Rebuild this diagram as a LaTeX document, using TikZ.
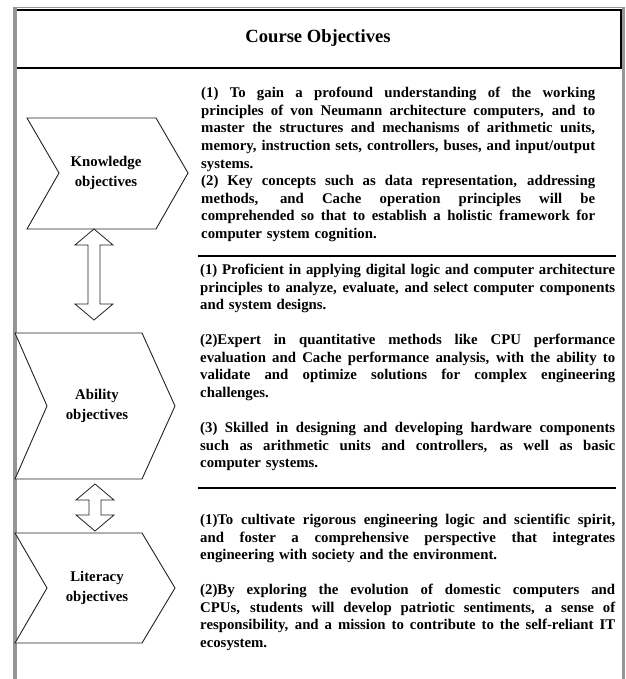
\documentclass[tikz,border=0pt]{standalone}
\usepackage{fontspec}
\setmainfont{Liberation Serif}
\usepackage{graphicx}
\setlength\parindent{0pt}

\definecolor{bargray}{RGB}{150,150,150}
\definecolor{inkline}{RGB}{35,35,35}

% one full-width justified line; squeezed horizontally if it is too long
\newsavebox\linebox
\newcommand\jline[1]{\leavevmode\strut\sbox\linebox{#1}%
  \ifdim\wd\linebox>\hsize
    \resizebox{\hsize}{\height}{\usebox\linebox}%
  \else
    \hbox to \hsize{\spaceskip=0pt\xspaceskip=0pt #1}%
  \fi}
% last (ragged) line of a paragraph
\newcommand\lastline[1]{\leavevmode\strut #1}

\tikzset{
  body/.style={anchor=north west, inner sep=0pt, align=left,
    font=\bfseries\fontsize{14.8}{17.6}\selectfont},
  tag/.style={inner sep=0pt, align=center,
    font=\bfseries\fontsize{14.8}{20}\selectfont},
  chevron/.style={draw=inkline, line width=0.9pt, fill=white},
  twowaystyle/.style={draw=inkline, line width=0.8pt, fill=white, line join=miter},
  rule/.style={line width=2pt, black},
}

% vertical double-headed block arrow: x, top tip y, bottom tip y
\newcommand\twoway[3]{%
  \draw[twowaystyle] (#1,#2) -- ++(19,16) -- ++(-13,0) -- (#1+6,#3-16)
    -- ++(13,0) -- (#1,#3) -- ++(-19,-16) -- ++(13,0) -- (#1-6,#2+16)
    -- ++(-13,0) -- cycle;}

\begin{document}
\begin{tikzpicture}[x=1pt, y=-1pt]
\useasboundingbox (0,0) rectangle (625,679);
\fill[white] (0,0) rectangle (625,679);

% outer frame and header
\fill[bargray] (12.7,7.3) rectangle (16.7,679);
\fill[bargray] (621.6,7.3) rectangle (625,679);
\draw[bargray, line width=0.8pt] (16.7,7.7) -- (621.6,7.7);
\draw[black, line width=1.6pt] (16.7,10.2) -- (621,10.2) -- (621,68);
\draw[black, line width=2pt] (16.7,68) -- (621.6,68);
\node[font=\bfseries\fontsize{18.6}{22}\selectfont] (title) at (318,38.5) {Course Objectives};

% chevrons with their labels
\draw[chevron] (27,118) -- (156,118) -- (188,173) -- (156,229) -- (27,229) -- (59,173) -- cycle;
\node[tag] (know) at (106,173) {Knowledge\\objectives};

\draw[chevron] (15,333) -- (142,333) -- (175,406) -- (142,479) -- (15,479) -- (47,406) -- cycle;
\node[tag] (abil) at (97,406) {Ability\\objectives};

\draw[chevron] (15,533) -- (142,533) -- (175,588) -- (142,643) -- (15,643) -- (47,588) -- cycle;
\node[tag] (lit) at (97,588) {Literacy\\objectives};

% links between the three objective groups
\coordinate (knowbottom) at (94,229);
\coordinate (abiltop) at (94,320);
\coordinate (abilbottom) at (95,484);
\coordinate (littop) at (95,531);
\twoway{94}{229}{320}
\twoway{95}{484}{531}

% separators between the text groups
\draw[rule] (198,256) -- (616,256);
\draw[rule] (198,488) -- (616,488);

% knowledge objectives text
\node[body, text width=394pt] (ktext) at (201,85.2) {%
\jline{(1) To gain a profound understanding of the working}\\
\jline{principles of von Neumann architecture computers, and to}\\
\jline{master the structures and mechanisms of arithmetic units,}\\
\jline{memory, instruction sets, controllers, buses, and input/output}\\
\lastline{systems.}\\
\jline{(2) Key concepts such as data representation, addressing}\\
\jline{methods, and Cache operation principles will be}\\
\jline{comprehended so that to establish a holistic framework for}\\
\lastline{computer system cognition.}};

% ability objectives text
\node[body, text width=415pt] (a1) at (200,262.2) {%
\jline{(1) Proficient in applying digital logic and computer architecture}\\
\jline{principles to analyze, evaluate, and select computer components}\\
\lastline{and system designs.}};
\node[body, text width=415pt] (a2) at (200,332.2) {%
\jline{(2)Expert in quantitative methods like CPU performance}\\
\jline{evaluation and Cache performance analysis, with the ability to}\\
\jline{validate and optimize solutions for complex engineering}\\
\lastline{challenges.}};
\node[body, text width=415pt] (a3) at (200,420.2) {%
\jline{(3) Skilled in designing and developing hardware components}\\
\jline{such as arithmetic units and controllers, as well as basic}\\
\lastline{computer systems.}};

% literacy objectives text
\node[body, text width=415pt] (l1) at (200,512.2) {%
\jline{(1)To cultivate rigorous engineering logic and scientific spirit,}\\
\jline{and foster a comprehensive perspective that integrates}\\
\lastline{engineering with society and the environment.}};
\node[body, text width=415pt] (l2) at (200,582.2) {%
\jline{(2)By exploring the evolution of domestic computers and}\\
\jline{CPUs, students will develop patriotic sentiments, a sense of}\\
\jline{responsibility, and a mission to contribute to the self-reliant IT}\\
\lastline{ecosystem.}};
\end{tikzpicture}
\end{document}
